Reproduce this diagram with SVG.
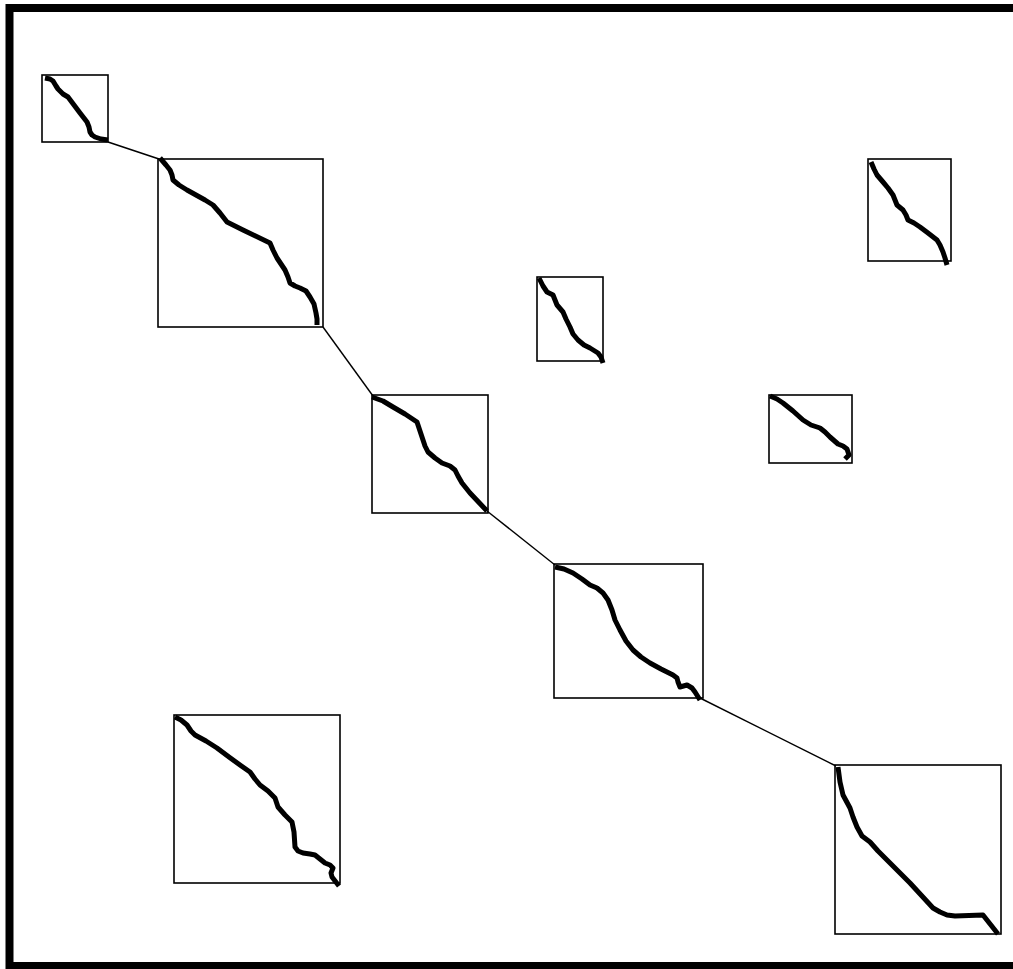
<svg xmlns="http://www.w3.org/2000/svg" width="1013" height="969" viewBox="0 0 1013 969">
<style>
.box{fill:none;stroke:#000;stroke-width:1.6}
.crv{fill:none;stroke:#000;stroke-width:5;stroke-linejoin:round;stroke-linecap:butt}
.con{fill:none;stroke:#000;stroke-width:1.4}
</style>
<rect x="0" y="0" width="1013" height="969" fill="#fff"/>
<rect id="frame" x="9.5" y="8" width="1012" height="958" fill="none" stroke="#000" stroke-width="8"/>
<g id="connectors">
<line class="con" x1="108" y1="142" x2="159" y2="159"/>
<line class="con" x1="323" y1="327" x2="373" y2="396"/>
<line class="con" x1="487" y1="511" x2="555" y2="565"/>
<line class="con" x1="700" y1="698" x2="836" y2="766"/>
</g>
<g id="nodeA">
<rect class="box" x="42" y="75" width="66" height="67"/>
<polyline class="crv" points="45,78 50,79 53,81 56,86 58,89 63,94 68,97 74,105 80,113 87,122 89,127 90,132 92,135 95,137 101,139 108,140"/>
</g>
<g id="nodeB">
<rect class="box" x="158" y="159" width="165" height="168"/>
<polyline class="crv" points="160,158 166,165 170,170 172,175 173,180 179,185 187,190 205,200 213,205 220,213 227,222 235,226 243,230 270,243 273,250 277,258 285,270 288,277 290,283 295,286 300,288 306,291 310,297 314,304 316,313 317,319 317,325"/>
</g>
<g id="nodeC">
<rect class="box" x="372" y="395" width="116" height="118"/>
<polyline class="crv" points="372,397 383,401 393,407 405,414 417,422 419,428 422,437 425,446 428,452 435,458 442,463 450,466 455,470 458,476 462,483 470,493 487,511"/>
</g>
<g id="nodeD">
<rect class="box" x="554" y="564" width="149" height="134"/>
<polyline class="crv" points="555,567 564,569 573,573 582,579 590,585 597,588 603,593 608,600 612,610 615,620 620,630 626,641 633,650 641,657 650,663 661,669 673,675 677,678 678,682 680,687 687,685 692,688 695,692 700,700"/>
</g>
<g id="nodeE">
<rect class="box" x="537" y="277" width="66" height="84"/>
<polyline class="crv" points="539,278 543,286 547,292 553,295 555,300 557,305 563,312 566,319 570,327 573,334 578,340 584,345 590,348 598,353 601,357 603,363"/>
</g>
<g id="nodeF">
<rect class="box" x="868" y="159" width="83" height="102"/>
<polyline class="crv" points="871,162 874,169 877,175 883,182 888,188 893,195 895,200 897,205 903,210 906,215 908,220 914,223 920,227 928,233 937,240 940,245 943,252 945,258 947,265"/>
</g>
<g id="nodeG">
<rect class="box" x="769" y="395" width="83" height="68"/>
<polyline class="crv" points="770,396 777,399 783,403 793,411 803,420 811,425 820,428 825,432 830,437 838,444 843,446 847,449 849,455 845,459"/>
</g>
<g id="nodeH">
<rect class="box" x="835" y="765" width="166" height="169"/>
<polyline class="crv" points="838,767 840,782 843,795 850,808 853,817 857,827 862,836 870,842 878,851 887,860 910,883 933,908 940,912 947,915 955,916 983,915 998,934"/>
</g>
<g id="nodeI">
<rect class="box" x="174" y="715" width="166" height="168"/>
<polyline class="crv" points="175,717 181,720 187,725 191,731 195,735 206,741 217,748 229,757 240,765 250,772 255,779 260,785 268,791 275,798 278,807 285,815 292,822 294,832 295,847 298,851 303,853 310,854 315,855 320,859 325,863 330,865 333,868 331,873 332,877 339,886"/>
</g>
</svg>
